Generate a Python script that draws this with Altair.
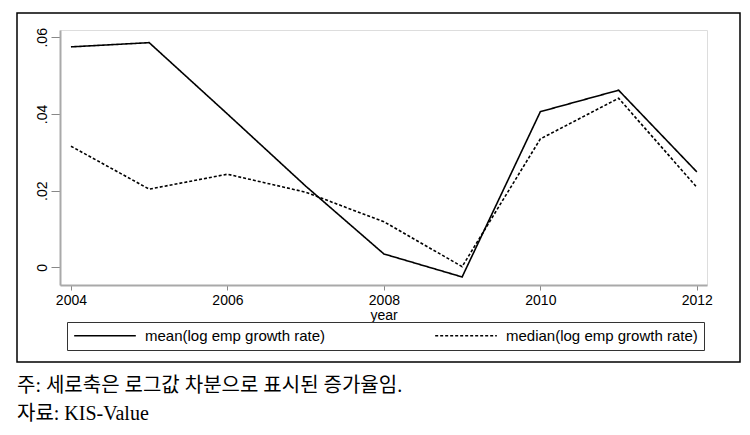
import altair as alt
import pandas as pd

years = [2004, 2005, 2006, 2007, 2008, 2009, 2010, 2011, 2012]
mean_vals = [0.0575, 0.0586, 0.0400, 0.0212, 0.0035, -0.0025, 0.0406, 0.0462, 0.0249]
median_vals = [0.0316, 0.0204, 0.0243, 0.0196, 0.0119, 0.0002, 0.0335, 0.0441, 0.0209]
series_names = ["mean(log emp growth rate)", "median(log emp growth rate)"]
x_ticks = [2004, 2006, 2008, 2010, 2012]
y_ticks = [0, 0.02, 0.04, 0.06]
note_lines = ["주: 세로축은 로그값 차분으로 표시된 증가율임.", "자료: KIS-Value"]

rows = []
for y, m, md in zip(years, mean_vals, median_vals):
    rows.append({"year": y, "value": m, "series": series_names[0]})
    rows.append({"year": y, "value": md, "series": series_names[1]})
df = pd.DataFrame(rows)

FONT = "Liberation Sans, Arial, sans-serif"

lines = alt.Chart(df).mark_line(color="black", strokeWidth=1.6).encode(
    x=alt.X("year:Q",
            scale=alt.Scale(domain=[2003.86, 2012.13], nice=False, zero=False),
            axis=alt.Axis(values=x_ticks, format="d", title="year", grid=False,
                          domainColor="#a9a9a9", domainWidth=2, tickColor="#888888",
                          tickSize=5, labelPadding=3, titlePadding=1,
                          labelFont=FONT, titleFont=FONT, labelFontSize=14,
                          titleFontSize=14, titleFontWeight="normal",
                          labelColor="black", titleColor="black")),
    y=alt.Y("value:Q",
            scale=alt.Scale(domain=[-0.0046, 0.0619], nice=False, zero=False),
            axis=alt.Axis(values=y_ticks, title=None, grid=False,
                          labelExpr="datum.value == 0 ? '0' : substring(format(datum.value, '.2f'), 1)",
                          labelAngle=270, labelAlign="center", labelBaseline="bottom",
                          domainColor="#a9a9a9", domainWidth=2, tickColor="#888888",
                          tickSize=9, labelPadding=2,
                          labelFont=FONT, labelFontSize=14, labelColor="black")),
    strokeDash=alt.StrokeDash("series:N",
                              scale=alt.Scale(domain=series_names, range=[[1, 0], [3, 2]]),
                              legend=alt.Legend(title=None, orient="none", legendX=7, legendY=292,
                                                direction="horizontal", columns=2,
                                                symbolType="stroke", symbolSize=3800,
                                                symbolStrokeWidth=1.4, symbolStrokeColor="black",
                                                clipHeight=15, labelLimit=400,
                                                labelFont=FONT, labelFontSize=15, labelColor="black",
                                                labelOffset=8, columnPadding=108, padding=6,
                                                strokeColor="#333333")),
)

frame = alt.Chart(alt.Data(values=[{"a": 1}])).mark_rect(
    fill="white", fillOpacity=0, stroke="black", strokeWidth=1.5, clip=False
).encode(
    x=alt.value(-43), x2=alt.value(680), y=alt.value(-17), y2=alt.value(332)
)

chart = alt.layer(frame, lines).properties(
    width=647, height=255,
    autosize=alt.AutoSizeParams(type="none"),
    padding={"left": 52, "top": 22, "right": 34, "bottom": 140},
    title=alt.TitleParams(text=note_lines, orient="bottom", anchor="start", frame="group",
                          dx=-43, offset=13, font="Liberation Serif, Noto Sans CJK KR",
                          fontSize=20, fontWeight="normal", lineHeight=28, color="black"),
).configure_view(stroke=None).configure(background="white")

chart.save("out.html", embed_options={"renderer": "svg", "actions": False})
